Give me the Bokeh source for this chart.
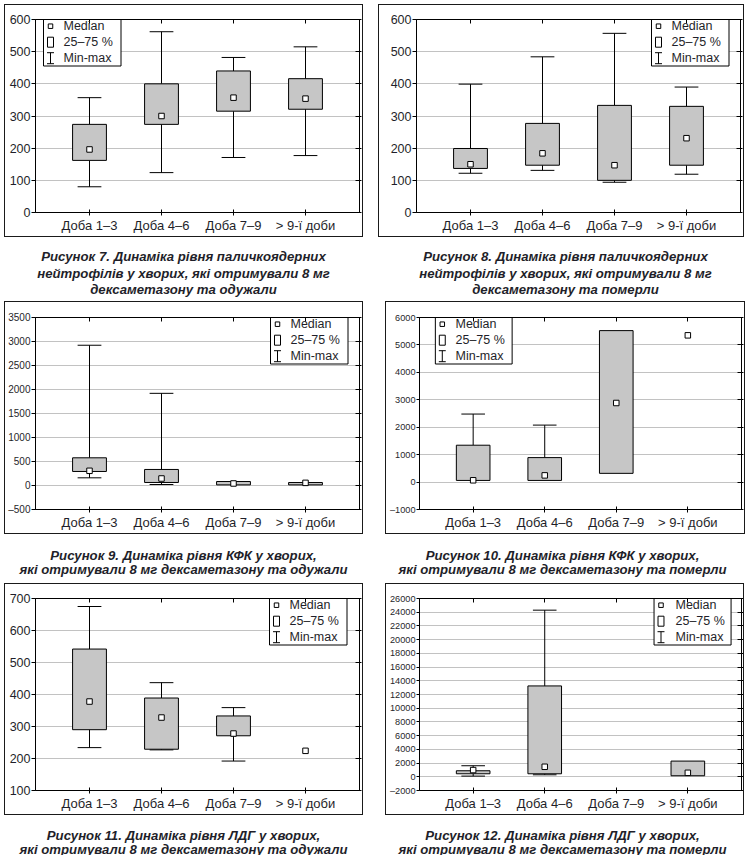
import numpy as np
from bokeh.plotting import figure
from bokeh.models import Range1d, FixedTicker, LinearAxis, Label, ColumnDataSource, Spacer
from bokeh.layouts import column, row
from bokeh.embed import file_html
from bokeh.resources import INLINE

categories = ["Доба 1–3", "Доба 4–6", "Доба 7–9", "> 9-ї доби"]

# Рисунок 7
f7_min = [80, 124, 171, 177]
f7_q1 = [162, 274, 315, 321]
f7_med = [196, 300, 357, 354]
f7_q3 = [274, 400, 440, 416]
f7_max = [357, 562, 482, 515]
# Рисунок 8
f8_min = [122, 131, 94, 119]
f8_q1 = [137, 147, 100, 147]
f8_med = [150, 184, 147, 231]
f8_q3 = [199, 277, 333, 330]
f8_max = [399, 484, 557, 390]
# Рисунок 9
f9_min = [160, 21, None, None]
f9_q1 = [292, 63, 13, 13]
f9_med = [306, 146, 42, 55]
f9_q3 = [577, 334, 83, 62]
f9_max = [2922, 1920, None, None]
# Рисунок 10
f10_min = [None, None, None, None]
f10_q1 = [60, 60, 318, None]
f10_med = [65, 244, 2883, 5350]
f10_q3 = [1344, 892, 5522, None]
f10_max = [2480, 2077, None, None]
# Рисунок 11
f11_min = [234, 227, 192, None]
f11_q1 = [290, 229, 271, None]
f11_med = [378, 328, 278, 224]
f11_q3 = [542, 389, 333, None]
f11_max = [675, 437, 359, None]
# Рисунок 12
f12_min = [100, 290, None, None]
f12_q1 = [440, 440, None, 150]
f12_med = [980, 1460, None, 580]
f12_q3 = [880, 13250, None, 2290]
f12_max = [1610, 24300, None, None]

legend_labels = ["Median", "25–75 %", "Min-max"]

captions = [
    ["Рисунок 7. Динаміка рівня паличкоядерних", "нейтрофілів у хворих, які отримували 8 мг", "дексаметазону та одужали"],
    ["Рисунок 8. Динаміка рівня паличкоядерних", "нейтрофілів у хворих, які отримували 8 мг", "дексаметазону та померли"],
    ["Рисунок 9. Динаміка рівня КФК у хворих,", "які отримували 8 мг дексаметазону та одужали"],
    ["Рисунок 10. Динаміка рівня КФК у хворих,", "які отримували 8 мг дексаметазону та померли"],
    ["Рисунок 11. Динаміка рівня ЛДГ у хворих,", "які отримували 8 мг дексаметазону та одужали"],
    ["Рисунок 12. Динаміка рівня ЛДГ у хворих,", "які отримували 8 мг дексаметазону та померли"],
]

FONT = "Liberation Sans"
TXT = "#1f1f2a"
BOX_FILL = "#c6c6c6"
GRID = "#c2c2c2"
XR = (0.25, 4.75)


def arr(v):
    return np.array([np.nan if a is None else a for a in v], dtype=float)


def no_align(p):
    if "frame_align" in p.properties():
        p.frame_align = False


def chart(mins, q1, med, q3, maxs, yr, ystep, tick_fs, tick_out, geom, legend_left):
    W, H, FL, FT, FW, FH = geom
    ymin, ymax = yr
    yt = list(range(ymin, ymax + 1, ystep))
    p = figure(width=W, height=H, x_range=Range1d(*XR), y_range=Range1d(ymin, ymax),
               output_backend="svg", toolbar_location=None,
               min_border_left=FL, min_border_right=W - FL - FW,
               min_border_top=FT, min_border_bottom=H - FT - FH,
               styles={"outline": "1.5px solid #1a1a1a", "outline-offset": "0px"})
    no_align(p)
    p.background_fill_color = "white"
    p.border_fill_color = "white"
    p.outline_line_color = "black"
    p.outline_line_width = 1

    xs = [1, 2, 3, 4]
    xa = p.xaxis[0]
    xa.ticker = FixedTicker(ticks=xs)
    xa.major_label_overrides = {i + 1: c for i, c in enumerate(categories)}
    xa.major_tick_in = 3
    xa.major_tick_out = 3
    xa.minor_tick_in = 0
    xa.minor_tick_out = 0
    xa.major_label_standoff = 2
    xa.major_label_text_font = FONT
    xa.major_label_text_font_size = "13px"
    xa.major_label_text_color = TXT
    xa.axis_line_color = "black"

    ya = p.yaxis[0]
    ya.ticker = FixedTicker(ticks=yt)
    ya.major_label_overrides = {t: "–" + str(-t) for t in yt if t < 0}
    ya.major_tick_in = 0
    ya.major_tick_out = tick_out
    ya.minor_tick_in = 0
    ya.minor_tick_out = 0
    ya.major_label_standoff = 1
    ya.major_label_text_font = FONT
    ya.major_label_text_font_size = tick_fs
    ya.major_label_text_color = TXT
    ya.axis_line_color = "black"

    ra = LinearAxis(ticker=FixedTicker(ticks=yt), major_tick_in=4, major_tick_out=2,
                    minor_tick_in=0, minor_tick_out=0, major_label_text_font_size="0px",
                    major_label_standoff=0, axis_line_color="black")
    p.add_layout(ra, "right")
    ta = LinearAxis(ticker=FixedTicker(ticks=xs), major_tick_in=4, major_tick_out=0,
                    minor_tick_in=0, minor_tick_out=0, major_label_text_font_size="0px",
                    major_label_standoff=0, axis_line_color="black")
    p.add_layout(ta, "above")

    p.ygrid.ticker = FixedTicker(ticks=yt)
    p.ygrid.grid_line_color = GRID
    p.ygrid.grid_line_width = 1
    p.xgrid.grid_line_color = None

    x = np.array(xs, dtype=float)
    src = ColumnDataSource(dict(x=x, xl=x - 0.165, xr=x + 0.165,
                                mn=arr(mins), q1=arr(q1), md=arr(med), q3=arr(q3), mx=arr(maxs)))
    p.segment(x0="x", y0="mn", x1="x", y1="q1", source=src, line_color="black", line_width=1)
    p.segment(x0="x", y0="q3", x1="x", y1="mx", source=src, line_color="black", line_width=1)
    p.segment(x0="xl", y0="mn", x1="xr", y1="mn", source=src, line_color="black", line_width=1)
    p.segment(x0="xl", y0="mx", x1="xr", y1="mx", source=src, line_color="black", line_width=1)
    p.vbar(x="x", width=0.47, bottom="q1", top="q3", source=src,
           fill_color=BOX_FILL, line_color="black", line_width=1)
    p.scatter(x="x", y="md", source=src, marker="square", size=5.5,
              fill_color="white", line_color="black", line_width=1)

    # legend: positions given in pixels from the frame's top-left corner
    def dx(px):
        return XR[0] + px / FW * (XR[1] - XR[0])

    def dy(py):
        return ymax - py / FH * (ymax - ymin)

    L = legend_left
    rows_px = [6.7, 22.7, 38.7]
    ic = L + 7
    p.quad(left=[dx(L)], right=[dx(L + 77.5)], top=[dy(-4.5)], bottom=[dy(46.5)],
           fill_color="white", line_color="black", line_width=1)
    p.scatter(x=[dx(ic)], y=[dy(rows_px[0])], marker="square", size=4.5,
              fill_color="white", line_color="black", line_width=1)
    p.quad(left=[dx(ic - 3)], right=[dx(ic + 3)], top=[dy(rows_px[1] - 5)], bottom=[dy(rows_px[1] + 5)],
           fill_color="white", line_color="black", line_width=1)
    r2 = rows_px[2]
    p.segment(x0=[dx(ic), dx(ic - 3.5), dx(ic - 3.5)], y0=[dy(r2 - 5.5), dy(r2 - 5.5), dy(r2 + 5.5)],
              x1=[dx(ic), dx(ic + 3.5), dx(ic + 3.5)], y1=[dy(r2 + 5.5), dy(r2 - 5.5), dy(r2 + 5.5)],
              line_color="black", line_width=1)
    for t, r in zip(legend_labels, rows_px):
        p.add_layout(Label(x=L + 20, y=FH - r, x_units="screen", y_units="screen", text=t,
                           text_baseline="middle", text_align="left", text_font=FONT,
                           text_font_size="12.5px", text_color=TXT))
    return p


def caption_fig(lines, W, H, cx, ys):
    c = figure(width=W, height=H, x_range=Range1d(0, W), y_range=Range1d(0, H),
               output_backend="svg", toolbar_location=None, min_border=0,
               x_axis_location=None, y_axis_location=None)
    no_align(c)
    c.outline_line_color = None
    c.background_fill_color = "white"
    c.border_fill_color = "white"
    c.grid.visible = False
    for t, yy in zip(lines, ys):
        c.add_layout(Label(x=cx, y=H - yy, x_units="screen", y_units="screen", text=t,
                           text_baseline="alphabetic", text_align="center", text_font=FONT,
                           text_font_style="bold italic", text_font_size="13.2px",
                           text_color=TXT))
    return c


# chart geometries: width, height, frame left, frame top, frame width, frame height
G7 = (357, 231, 30, 14, 324, 193)
G8 = (364, 231, 37, 14, 324, 193)
G9 = (357, 231, 30, 15, 324, 192)
G10 = (358, 231, 30, 15, 325, 192)
G11 = (357, 230, 30, 14, 324, 192)
G12 = (357, 230, 31, 14, 324, 192)

p7 = chart(f7_min, f7_q1, f7_med, f7_q3, f7_max, (0, 600), 100, "12.5px", 4, G7, 8)
p8 = chart(f8_min, f8_q1, f8_med, f8_q3, f8_max, (0, 600), 100, "12.5px", 4, G8, 235)
p9 = chart(f9_min, f9_q1, f9_med, f9_q3, f9_max, (-500, 3500), 500, "10px", 4, G9, 235)
p10 = chart(f10_min, f10_q1, f10_med, f10_q3, f10_max, (-1000, 6000), 1000, "9.2px", 3, G10, 16)
p11 = chart(f11_min, f11_q1, f11_med, f11_q3, f11_max, (100, 700), 100, "12.5px", 4, G11, 234)
p12 = chart(f12_min, f12_q1, f12_med, f12_q3, f12_max, (-2000, 26000), 2000, "9.2px", 3, G12, 236)

c7 = caption_fig(captions[0], 375, 56, 183, [15, 31.7, 48.3])
c8 = caption_fig(captions[1], 374, 56, 190, [15, 31.7, 48.3])
c9 = caption_fig(captions[2], 375, 41, 183, [16.5, 30.5])
c10 = caption_fig(captions[3], 374, 41, 187, [16.5, 30.5])
c11 = caption_fig(captions[4], 375, 36, 183, [15.5, 29.5])
c12 = caption_fig(captions[5], 374, 36, 187, [15.5, 29.5])


def block(top_gap, ch_h, pl, gap_mid, pr, cap_gap, cl, cr):
    return column(
        Spacer(width=10, height=top_gap),
        row(Spacer(width=5, height=ch_h), pl, Spacer(width=gap_mid, height=ch_h), pr),
        Spacer(width=10, height=cap_gap),
        row(cl, cr),
    )


layout = column(
    block(5, 231, p7, 17, p8, 5, c7, c8),
    block(5, 231, p9, 24, p10, 5, c9, c10),
    block(5, 230, p11, 24, p12, 5, c11, c12),
)
open("out.html", "w").write(file_html(layout, INLINE))
